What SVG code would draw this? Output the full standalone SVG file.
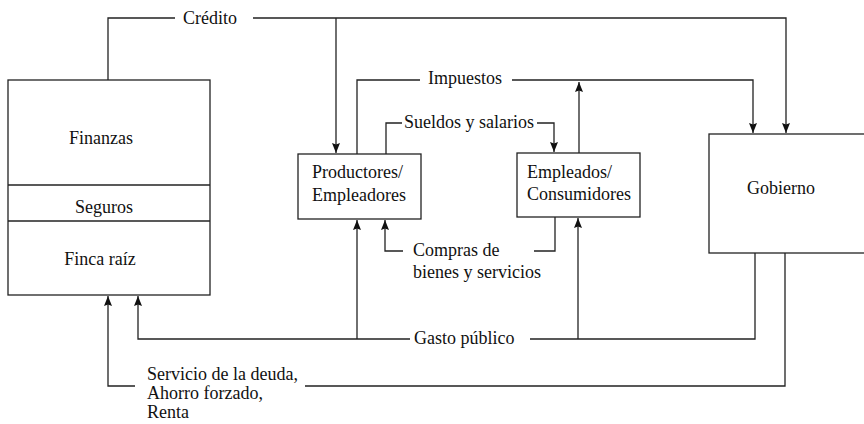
<svg xmlns="http://www.w3.org/2000/svg" width="864" height="424" viewBox="0 0 864 424">
<style>
.box{fill:#fff;stroke:#222;stroke-width:1.3}
.ln{fill:none;stroke:#222;stroke-width:1.3}
.arr{marker-end:url(#ah)}
text{font-family:"Liberation Serif","DejaVu Serif",serif;font-size:18px;fill:#111}
.m{text-anchor:middle}
</style>
<defs>
<marker id="ah" viewBox="0 0 10 8" refX="10" refY="4" markerWidth="10" markerHeight="8" markerUnits="userSpaceOnUse" orient="auto">
<path d="M0,0 L10,4 L0,8 L1.5,4 z" fill="#111"/>
</marker>
</defs>
<g id="connectors">
<g id="credito">
<polyline class="ln" points="108,80 108,18 175,18"/>
<polyline class="ln arr" points="253,18 786,18 786,133"/>
<polyline class="ln arr" points="336,18 336,153"/>
<text x="183" y="24">Crédito</text>
</g>
<g id="impuestos">
<polyline class="ln" points="357,154 357,80 420,80"/>
<polyline class="ln arr" points="512,80 753,80 753,133"/>
<polyline class="ln arr" points="579,153 579,82"/>
<text x="428" y="84">Impuestos</text>
</g>
<g id="sueldos">
<polyline class="ln" points="386,154 386,123 402,123"/>
<polyline class="ln arr" points="537,123 554,123 554,152"/>
<text x="404" y="128">Sueldos y salarios</text>
</g>
<g id="compras">
<polyline class="ln" points="555,217 555,251 534,251"/>
<polyline class="ln arr" points="403,251 385,251 385,220"/>
<text x="413" y="256">Compras de</text>
<text x="413" y="278">bienes y servicios</text>
</g>
<g id="gasto">
<polyline class="ln" points="755,253 755,339 530,339"/>
<polyline class="ln arr" points="410,339 138,339 138,296"/>
<polyline class="ln arr" points="357,339 357,220"/>
<polyline class="ln arr" points="578,339 578,218"/>
<text x="414" y="344">Gasto público</text>
</g>
<g id="servicio">
<polyline class="ln" points="785,253 785,386 305,386"/>
<polyline class="ln arr" points="135,386 108,386 108,296"/>
<text x="147" y="380">Servicio de la deuda,</text>
<text x="147" y="399">Ahorro forzado,</text>
<text x="147" y="418">Renta</text>
</g>
</g>
<g id="finanzas">
<rect class="box" x="8" y="80" width="202" height="215"/>
<line class="ln" x1="8" y1="185" x2="210" y2="185"/>
<line class="ln" x1="8" y1="221" x2="210" y2="221"/>
<text class="m" x="101" y="144">Finanzas</text>
<text class="m" x="104" y="213">Seguros</text>
<text class="m" x="100" y="265">Finca raíz</text>
</g>
<g id="productores">
<rect class="box" x="298" y="154" width="123" height="65"/>
<text x="312" y="178">Productores/</text>
<text x="312" y="201">Empleadores</text>
</g>
<g id="empleados">
<rect class="box" x="517" y="153" width="123" height="64"/>
<text x="527" y="178">Empleados/</text>
<text x="527" y="200">Consumidores</text>
</g>
<g id="gobierno">
<rect class="box" x="709" y="134" width="170" height="119"/>
<text x="747" y="194">Gobierno</text>
</g>
</svg>
